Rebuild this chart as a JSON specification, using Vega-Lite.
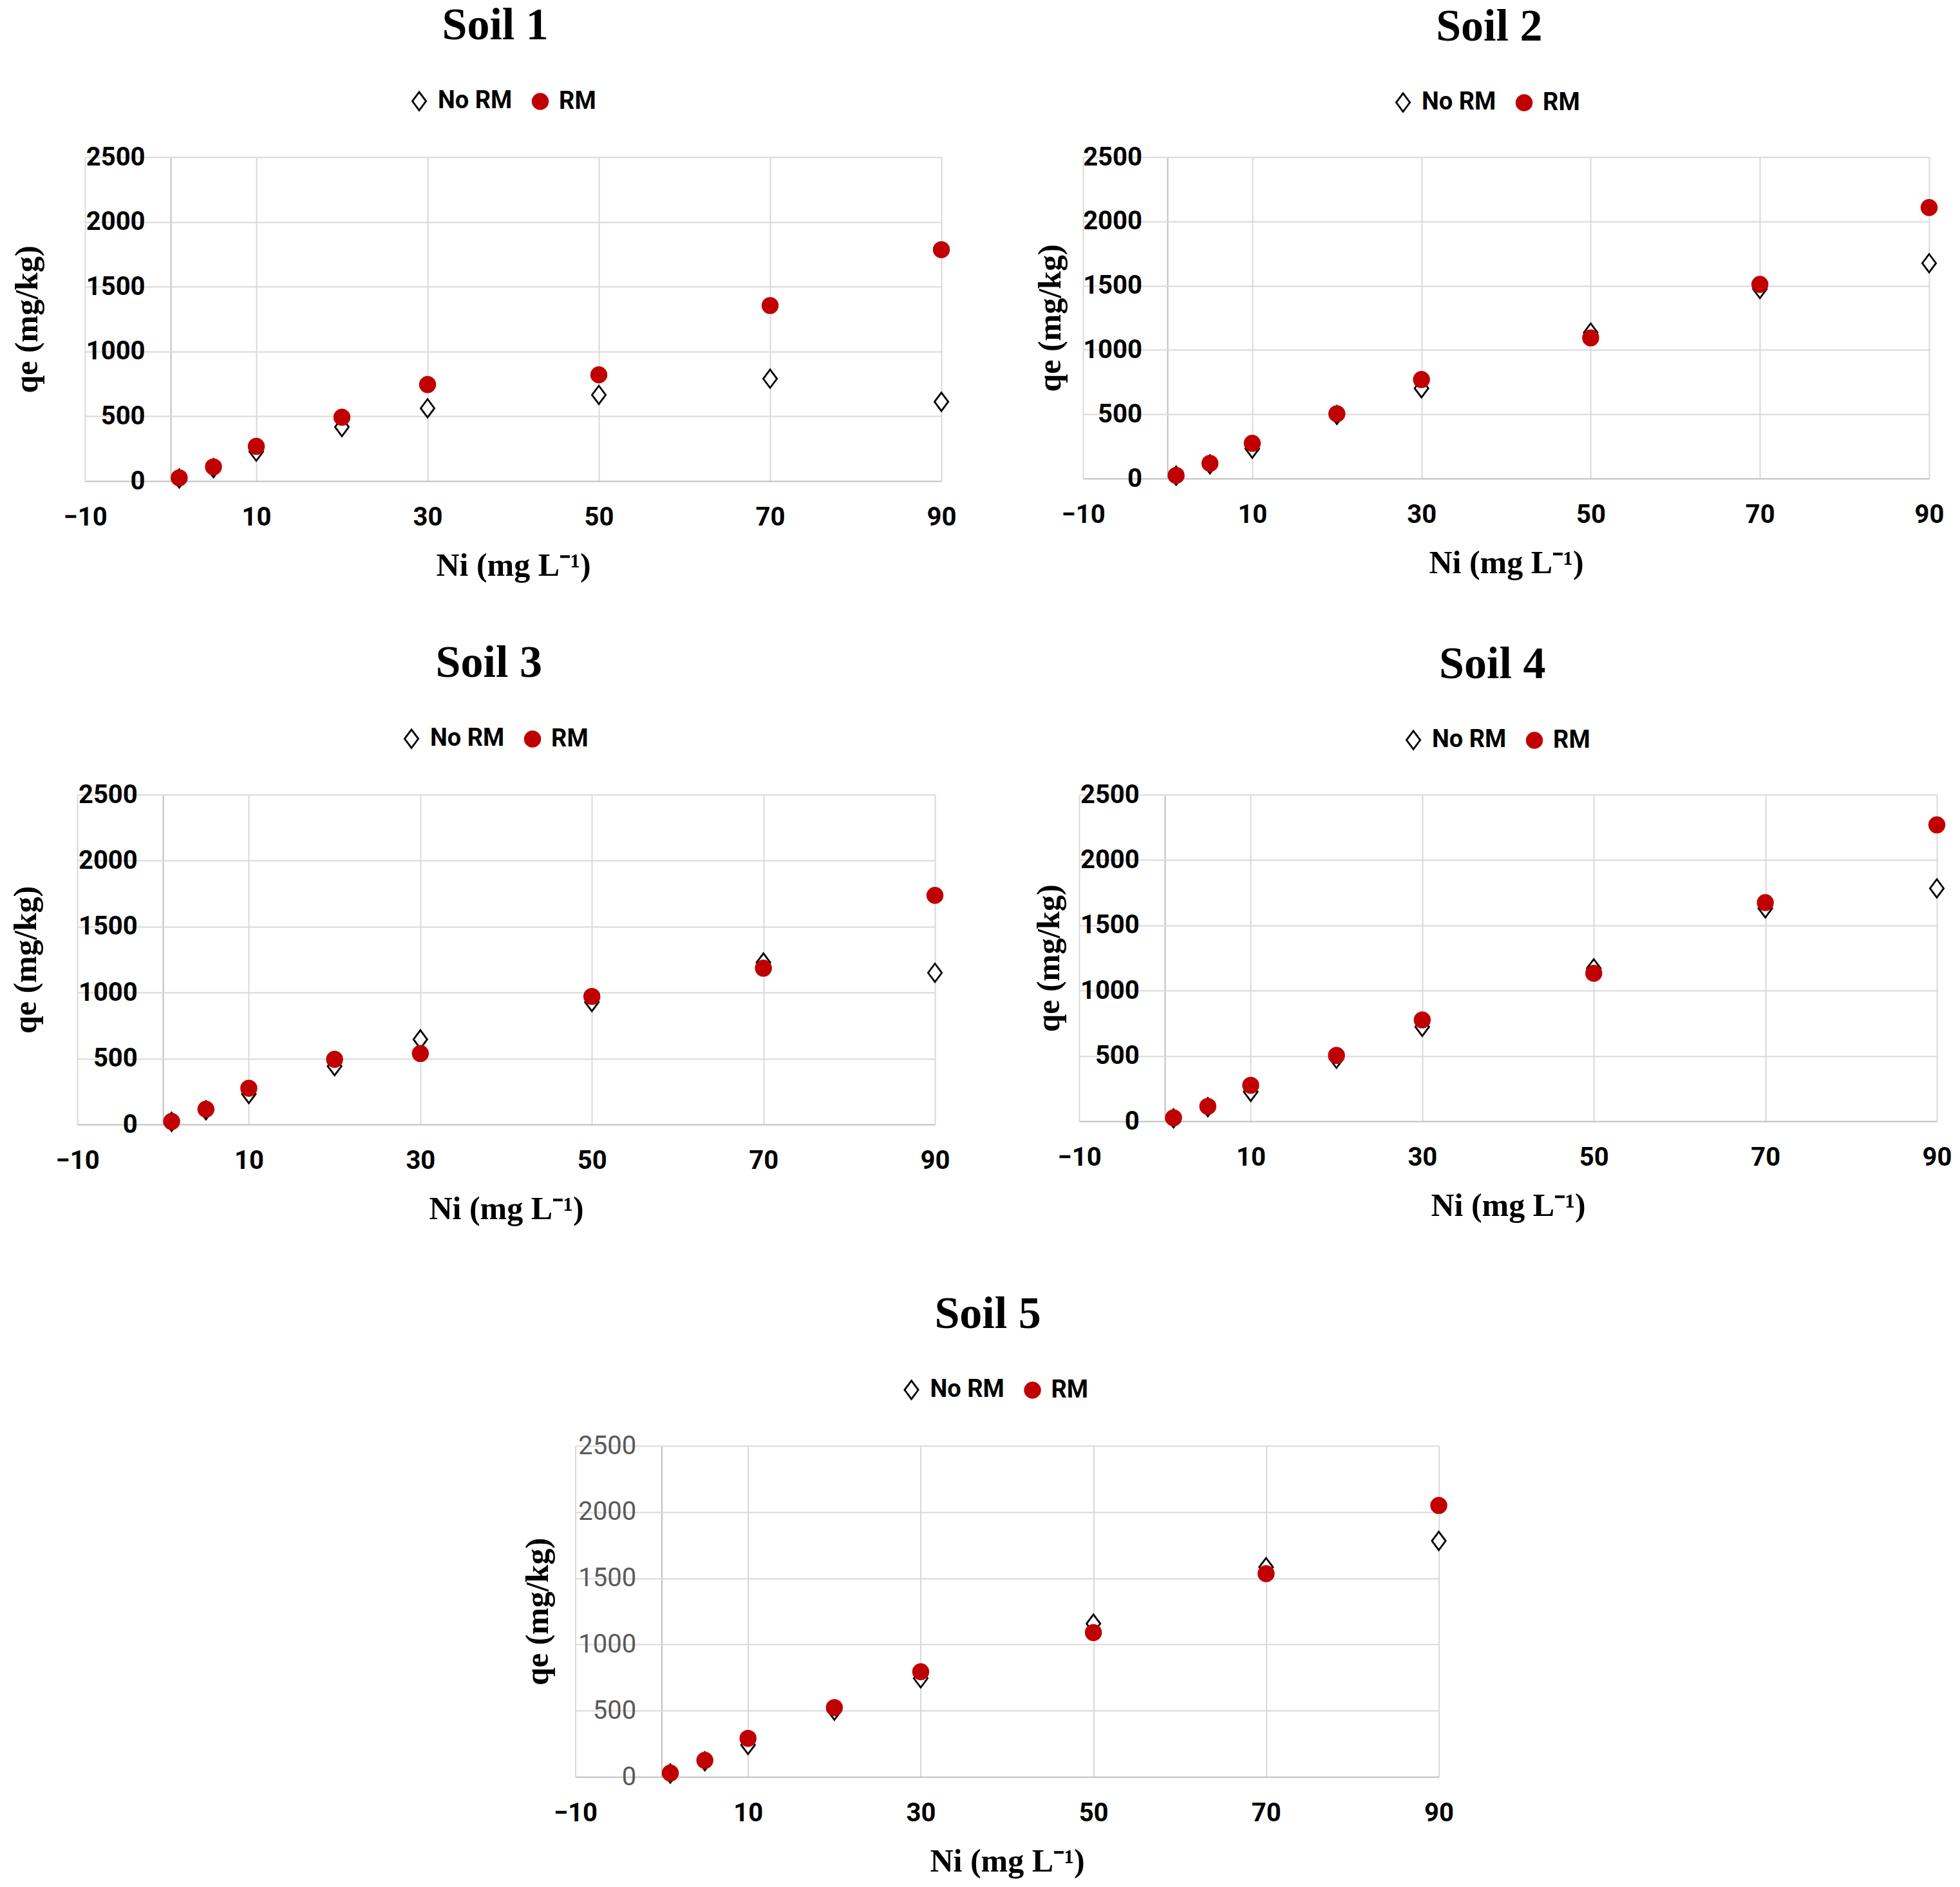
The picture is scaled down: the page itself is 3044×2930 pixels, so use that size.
{
  "$schema": "https://vega.github.io/schema/vega-lite/v6.json",
  "background": "white",
  "padding": {"left": 15, "top": 5, "right": 5, "bottom": 5},
  "data": {"values": [
    {"soil": "Soil 1", "series": "No RM", "ni": 1, "qe": 20},
    {"soil": "Soil 1", "series": "No RM", "ni": 5, "qe": 100},
    {"soil": "Soil 1", "series": "No RM", "ni": 10, "qe": 227},
    {"soil": "Soil 1", "series": "No RM", "ni": 20, "qe": 417},
    {"soil": "Soil 1", "series": "No RM", "ni": 30, "qe": 562},
    {"soil": "Soil 1", "series": "No RM", "ni": 50, "qe": 665},
    {"soil": "Soil 1", "series": "No RM", "ni": 70, "qe": 790},
    {"soil": "Soil 1", "series": "No RM", "ni": 90, "qe": 612},
    {"soil": "Soil 1", "series": "RM", "ni": 1, "qe": 25},
    {"soil": "Soil 1", "series": "RM", "ni": 5, "qe": 110},
    {"soil": "Soil 1", "series": "RM", "ni": 10, "qe": 268},
    {"soil": "Soil 1", "series": "RM", "ni": 20, "qe": 493},
    {"soil": "Soil 1", "series": "RM", "ni": 30, "qe": 745},
    {"soil": "Soil 1", "series": "RM", "ni": 50, "qe": 820},
    {"soil": "Soil 1", "series": "RM", "ni": 70, "qe": 1355},
    {"soil": "Soil 1", "series": "RM", "ni": 90, "qe": 1786},
    {"soil": "Soil 2", "series": "No RM", "ni": 1, "qe": 22},
    {"soil": "Soil 2", "series": "No RM", "ni": 5, "qe": 110},
    {"soil": "Soil 2", "series": "No RM", "ni": 10, "qe": 232},
    {"soil": "Soil 2", "series": "No RM", "ni": 20, "qe": 495},
    {"soil": "Soil 2", "series": "No RM", "ni": 30, "qe": 702},
    {"soil": "Soil 2", "series": "No RM", "ni": 50, "qe": 1135},
    {"soil": "Soil 2", "series": "No RM", "ni": 70, "qe": 1474},
    {"soil": "Soil 2", "series": "No RM", "ni": 90, "qe": 1675},
    {"soil": "Soil 2", "series": "RM", "ni": 1, "qe": 24},
    {"soil": "Soil 2", "series": "RM", "ni": 5, "qe": 118},
    {"soil": "Soil 2", "series": "RM", "ni": 10, "qe": 274},
    {"soil": "Soil 2", "series": "RM", "ni": 20, "qe": 504},
    {"soil": "Soil 2", "series": "RM", "ni": 30, "qe": 770},
    {"soil": "Soil 2", "series": "RM", "ni": 50, "qe": 1094},
    {"soil": "Soil 2", "series": "RM", "ni": 70, "qe": 1510},
    {"soil": "Soil 2", "series": "RM", "ni": 90, "qe": 2108},
    {"soil": "Soil 3", "series": "No RM", "ni": 1, "qe": 20},
    {"soil": "Soil 3", "series": "No RM", "ni": 5, "qe": 108},
    {"soil": "Soil 3", "series": "No RM", "ni": 10, "qe": 231},
    {"soil": "Soil 3", "series": "No RM", "ni": 20, "qe": 442},
    {"soil": "Soil 3", "series": "No RM", "ni": 30, "qe": 645},
    {"soil": "Soil 3", "series": "No RM", "ni": 50, "qe": 928},
    {"soil": "Soil 3", "series": "No RM", "ni": 70, "qe": 1228},
    {"soil": "Soil 3", "series": "No RM", "ni": 90, "qe": 1150},
    {"soil": "Soil 3", "series": "RM", "ni": 1, "qe": 23},
    {"soil": "Soil 3", "series": "RM", "ni": 5, "qe": 116},
    {"soil": "Soil 3", "series": "RM", "ni": 10, "qe": 275},
    {"soil": "Soil 3", "series": "RM", "ni": 20, "qe": 494},
    {"soil": "Soil 3", "series": "RM", "ni": 30, "qe": 538},
    {"soil": "Soil 3", "series": "RM", "ni": 50, "qe": 971},
    {"soil": "Soil 3", "series": "RM", "ni": 70, "qe": 1185},
    {"soil": "Soil 3", "series": "RM", "ni": 90, "qe": 1737},
    {"soil": "Soil 4", "series": "No RM", "ni": 1, "qe": 22},
    {"soil": "Soil 4", "series": "No RM", "ni": 5, "qe": 108},
    {"soil": "Soil 4", "series": "No RM", "ni": 10, "qe": 225},
    {"soil": "Soil 4", "series": "No RM", "ni": 20, "qe": 478},
    {"soil": "Soil 4", "series": "No RM", "ni": 30, "qe": 723},
    {"soil": "Soil 4", "series": "No RM", "ni": 50, "qe": 1171},
    {"soil": "Soil 4", "series": "No RM", "ni": 70, "qe": 1630},
    {"soil": "Soil 4", "series": "No RM", "ni": 90, "qe": 1783},
    {"soil": "Soil 4", "series": "RM", "ni": 1, "qe": 26},
    {"soil": "Soil 4", "series": "RM", "ni": 5, "qe": 114},
    {"soil": "Soil 4", "series": "RM", "ni": 10, "qe": 275},
    {"soil": "Soil 4", "series": "RM", "ni": 20, "qe": 504},
    {"soil": "Soil 4", "series": "RM", "ni": 30, "qe": 776},
    {"soil": "Soil 4", "series": "RM", "ni": 50, "qe": 1133},
    {"soil": "Soil 4", "series": "RM", "ni": 70, "qe": 1674},
    {"soil": "Soil 4", "series": "RM", "ni": 90, "qe": 2269},
    {"soil": "Soil 5", "series": "No RM", "ni": 1, "qe": 25},
    {"soil": "Soil 5", "series": "No RM", "ni": 5, "qe": 118},
    {"soil": "Soil 5", "series": "No RM", "ni": 10, "qe": 241},
    {"soil": "Soil 5", "series": "No RM", "ni": 20, "qe": 500},
    {"soil": "Soil 5", "series": "No RM", "ni": 30, "qe": 744},
    {"soil": "Soil 5", "series": "No RM", "ni": 50, "qe": 1157},
    {"soil": "Soil 5", "series": "No RM", "ni": 70, "qe": 1584},
    {"soil": "Soil 5", "series": "No RM", "ni": 90, "qe": 1782},
    {"soil": "Soil 5", "series": "RM", "ni": 1, "qe": 29},
    {"soil": "Soil 5", "series": "RM", "ni": 5, "qe": 125},
    {"soil": "Soil 5", "series": "RM", "ni": 10, "qe": 291},
    {"soil": "Soil 5", "series": "RM", "ni": 20, "qe": 523},
    {"soil": "Soil 5", "series": "RM", "ni": 30, "qe": 794},
    {"soil": "Soil 5", "series": "RM", "ni": 50, "qe": 1090},
    {"soil": "Soil 5", "series": "RM", "ni": 70, "qe": 1535},
    {"soil": "Soil 5", "series": "RM", "ni": 90, "qe": 2050}
  ]},
  "spacing": 104,
  "center": true,
  "resolve": {"scale": {"shape": "independent", "fill": "independent", "stroke": "independent"}, "legend": {"shape": "independent", "fill": "independent", "stroke": "independent"}},
  "vconcat": [
    {
      "spacing": 92,
      "center": true,
      "resolve": {"scale": {"shape": "independent", "fill": "independent", "stroke": "independent"}, "legend": {"shape": "independent", "fill": "independent", "stroke": "independent"}},
      "vconcat": [
        {
          "spacing": 121,
          "resolve": {"scale": {"shape": "independent", "fill": "independent", "stroke": "independent"}, "legend": {"shape": "independent", "fill": "independent", "stroke": "independent"}},
          "hconcat": [
            {
              "title": {"text": "Soil 1", "dx": 18},
              "width": 1330, "height": 503,
              "transform": [{"filter": "datum.soil === 'Soil 1'"}],
              "mark": {"type": "point", "filled": true, "strokeWidth": 2.8, "size": 560, "opacity": 1},
              "encoding": {
                "x": {"field": "ni", "type": "quantitative", "title": "Ni (mg L⁻¹)", "scale": {"domain": [-10, 90], "nice": false, "zero": false},
                  "axis": {"values": [-10, 0, 10, 30, 50, 70, 90], "labelExpr": "datum.value === 0 ? '' : datum.label", "gridColor": {"condition": {"test": "datum.value === 0", "value": "#BFBFBF"}, "value": "#D9D9D9"}}},
                "y": {"field": "qe", "type": "quantitative", "title": "qe (mg/kg)", "scale": {"domain": [0, 2500], "nice": false},
                  "axis": {"values": [0, 500, 1000, 1500, 2000, 2500], "format": "d", "offset": -133, "titlePadding": 66, "gridColor": {"condition": {"test": "datum.value === 0", "value": "#BFBFBF"}, "value": "#D9D9D9"}}},
                "shape": {"field": "series", "type": "nominal", "scale": {"domain": ["No RM", "RM"], "range": ["M0,-1.2L0.9,0L0,1.2L-0.9,0Z", "circle"]}, "legend": {"legendX": 500, "legendY": -106}},
                "fill": {"field": "series", "type": "nominal", "scale": {"domain": ["No RM", "RM"], "range": ["#ffffff", "#C00000"]}, "legend": {"legendX": 500, "legendY": -106}},
                "stroke": {"field": "series", "type": "nominal", "scale": {"domain": ["No RM", "RM"], "range": ["#000000", "#C00000"]}, "legend": {"legendX": 500, "legendY": -106}}
              }
            },
            {
              "title": "Soil 2",
              "width": 1314, "height": 499,
              "transform": [{"filter": "datum.soil === 'Soil 2'"}],
              "mark": {"type": "point", "filled": true, "strokeWidth": 2.8, "size": 560, "opacity": 1},
              "encoding": {
                "x": {"field": "ni", "type": "quantitative", "title": "Ni (mg L⁻¹)", "scale": {"domain": [-10, 90], "nice": false, "zero": false},
                  "axis": {"values": [-10, 0, 10, 30, 50, 70, 90], "labelExpr": "datum.value === 0 ? '' : datum.label", "gridColor": {"condition": {"test": "datum.value === 0", "value": "#BFBFBF"}, "value": "#D9D9D9"}}},
                "y": {"field": "qe", "type": "quantitative", "title": "qe (mg/kg)", "scale": {"domain": [0, 2500], "nice": false},
                  "axis": {"values": [0, 500, 1000, 1500, 2000, 2500], "format": "d", "offset": -131.4, "titlePadding": 25, "gridColor": {"condition": {"test": "datum.value === 0", "value": "#BFBFBF"}, "value": "#D9D9D9"}}},
                "shape": {"field": "series", "type": "nominal", "scale": {"domain": ["No RM", "RM"], "range": ["M0,-1.2L0.9,0L0,1.2L-0.9,0Z", "circle"]}, "legend": {"legendX": 478, "legendY": -104}},
                "fill": {"field": "series", "type": "nominal", "scale": {"domain": ["No RM", "RM"], "range": ["#ffffff", "#C00000"]}, "legend": {"legendX": 478, "legendY": -104}},
                "stroke": {"field": "series", "type": "nominal", "scale": {"domain": ["No RM", "RM"], "range": ["#000000", "#C00000"]}, "legend": {"legendX": 478, "legendY": -104}}
              }
            }
          ]
        },
        {
          "spacing": 129,
          "resolve": {"scale": {"shape": "independent", "fill": "independent", "stroke": "independent"}, "legend": {"shape": "independent", "fill": "independent", "stroke": "independent"}},
          "hconcat": [
            {
              "title": {"text": "Soil 3", "dx": 14},
              "width": 1332, "height": 512,
              "transform": [{"filter": "datum.soil === 'Soil 3'"}],
              "mark": {"type": "point", "filled": true, "strokeWidth": 2.8, "size": 560, "opacity": 1},
              "encoding": {
                "x": {"field": "ni", "type": "quantitative", "title": "Ni (mg L⁻¹)", "scale": {"domain": [-10, 90], "nice": false, "zero": false},
                  "axis": {"values": [-10, 0, 10, 30, 50, 70, 90], "labelExpr": "datum.value === 0 ? '' : datum.label", "gridColor": {"condition": {"test": "datum.value === 0", "value": "#BFBFBF"}, "value": "#D9D9D9"}}},
                "y": {"field": "qe", "type": "quantitative", "title": "qe (mg/kg)", "scale": {"domain": [0, 2500], "nice": false},
                  "axis": {"values": [0, 500, 1000, 1500, 2000, 2500], "format": "d", "offset": -133.2, "titlePadding": 56, "gridColor": {"condition": {"test": "datum.value === 0", "value": "#BFBFBF"}, "value": "#D9D9D9"}}},
                "shape": {"field": "series", "type": "nominal", "scale": {"domain": ["No RM", "RM"], "range": ["M0,-1.2L0.9,0L0,1.2L-0.9,0Z", "circle"]}, "legend": {"legendX": 500, "legendY": -106}},
                "fill": {"field": "series", "type": "nominal", "scale": {"domain": ["No RM", "RM"], "range": ["#ffffff", "#C00000"]}, "legend": {"legendX": 500, "legendY": -106}},
                "stroke": {"field": "series", "type": "nominal", "scale": {"domain": ["No RM", "RM"], "range": ["#000000", "#C00000"]}, "legend": {"legendX": 500, "legendY": -106}}
              }
            },
            {
              "title": "Soil 4",
              "width": 1332, "height": 507,
              "transform": [{"filter": "datum.soil === 'Soil 4'"}],
              "mark": {"type": "point", "filled": true, "strokeWidth": 2.8, "size": 560, "opacity": 1},
              "encoding": {
                "x": {"field": "ni", "type": "quantitative", "title": "Ni (mg L⁻¹)", "scale": {"domain": [-10, 90], "nice": false, "zero": false},
                  "axis": {"values": [-10, 0, 10, 30, 50, 70, 90], "labelExpr": "datum.value === 0 ? '' : datum.label", "gridColor": {"condition": {"test": "datum.value === 0", "value": "#BFBFBF"}, "value": "#D9D9D9"}}},
                "y": {"field": "qe", "type": "quantitative", "title": "qe (mg/kg)", "scale": {"domain": [0, 2500], "nice": false},
                  "axis": {"values": [0, 500, 1000, 1500, 2000, 2500], "format": "d", "offset": -133.2, "titlePadding": 23, "gridColor": {"condition": {"test": "datum.value === 0", "value": "#BFBFBF"}, "value": "#D9D9D9"}}},
                "shape": {"field": "series", "type": "nominal", "scale": {"domain": ["No RM", "RM"], "range": ["M0,-1.2L0.9,0L0,1.2L-0.9,0Z", "circle"]}, "legend": {"legendX": 500, "legendY": -104}},
                "fill": {"field": "series", "type": "nominal", "scale": {"domain": ["No RM", "RM"], "range": ["#ffffff", "#C00000"]}, "legend": {"legendX": 500, "legendY": -104}},
                "stroke": {"field": "series", "type": "nominal", "scale": {"domain": ["No RM", "RM"], "range": ["#000000", "#C00000"]}, "legend": {"legendX": 500, "legendY": -104}}
              }
            }
          ]
        }
      ]
    },
    {
      "title": "Soil 5",
      "width": 1341, "height": 514,
      "transform": [{"filter": "datum.soil === 'Soil 5'"}],
      "mark": {"type": "point", "filled": true, "strokeWidth": 2.8, "size": 560, "opacity": 1},
      "encoding": {
        "x": {"field": "ni", "type": "quantitative", "title": "Ni (mg L⁻¹)", "scale": {"domain": [-10, 90], "nice": false, "zero": false},
          "axis": {"values": [-10, 0, 10, 30, 50, 70, 90], "labelExpr": "datum.value === 0 ? '' : datum.label", "gridColor": {"condition": {"test": "datum.value === 0", "value": "#BFBFBF"}, "value": "#D9D9D9"}}},
        "y": {"field": "qe", "type": "quantitative", "title": "qe (mg/kg)", "scale": {"domain": [0, 2500], "nice": false},
          "axis": {"values": [0, 500, 1000, 1500, 2000, 2500], "format": "d", "offset": -134.1, "titlePadding": 37, "labelColor": "#595959", "labelFontWeight": "normal", "gridColor": {"condition": {"test": "datum.value === 0", "value": "#BFBFBF"}, "value": "#D9D9D9"}}},
        "shape": {"field": "series", "type": "nominal", "scale": {"domain": ["No RM", "RM"], "range": ["M0,-1.2L0.9,0L0,1.2L-0.9,0Z", "circle"]}, "legend": {"legendX": 503, "legendY": -106}},
        "fill": {"field": "series", "type": "nominal", "scale": {"domain": ["No RM", "RM"], "range": ["#ffffff", "#C00000"]}, "legend": {"legendX": 503, "legendY": -106}},
        "stroke": {"field": "series", "type": "nominal", "scale": {"domain": ["No RM", "RM"], "range": ["#000000", "#C00000"]}, "legend": {"legendX": 503, "legendY": -106}}
      }
    }
  ],
  "config": {
    "view": {"stroke": null},
    "title": {"font": "Liberation Serif", "fontSize": 70, "fontWeight": "bold", "color": "#000000", "offset": 62, "anchor": "middle", "frame": "bounds"},
    "axis": {
      "domain": false, "ticks": false, "tickSize": 0,
      "labelFont": "Roboto", "labelFontSize": 40, "labelFontWeight": "bold", "labelColor": "#000000",
      "labelOverlap": false, "labelFlush": false,
      "titleFont": "Liberation Serif", "titleFontSize": 50, "titleFontWeight": "bold", "titleColor": "#000000",
      "gridWidth": 2
    },
    "axisX": {"labelPadding": 36, "titlePadding": 30},
    "axisY": {"labelPadding": 40},
    "legend": {
      "orient": "none", "direction": "horizontal", "title": null,
      "labelFont": "Roboto", "labelFontSize": 38, "labelFontWeight": "bold", "labelColor": "#000000",
      "symbolSize": 560, "symbolStrokeWidth": 2.8, "columnPadding": 24, "labelOffset": 10
    }
  }
}
